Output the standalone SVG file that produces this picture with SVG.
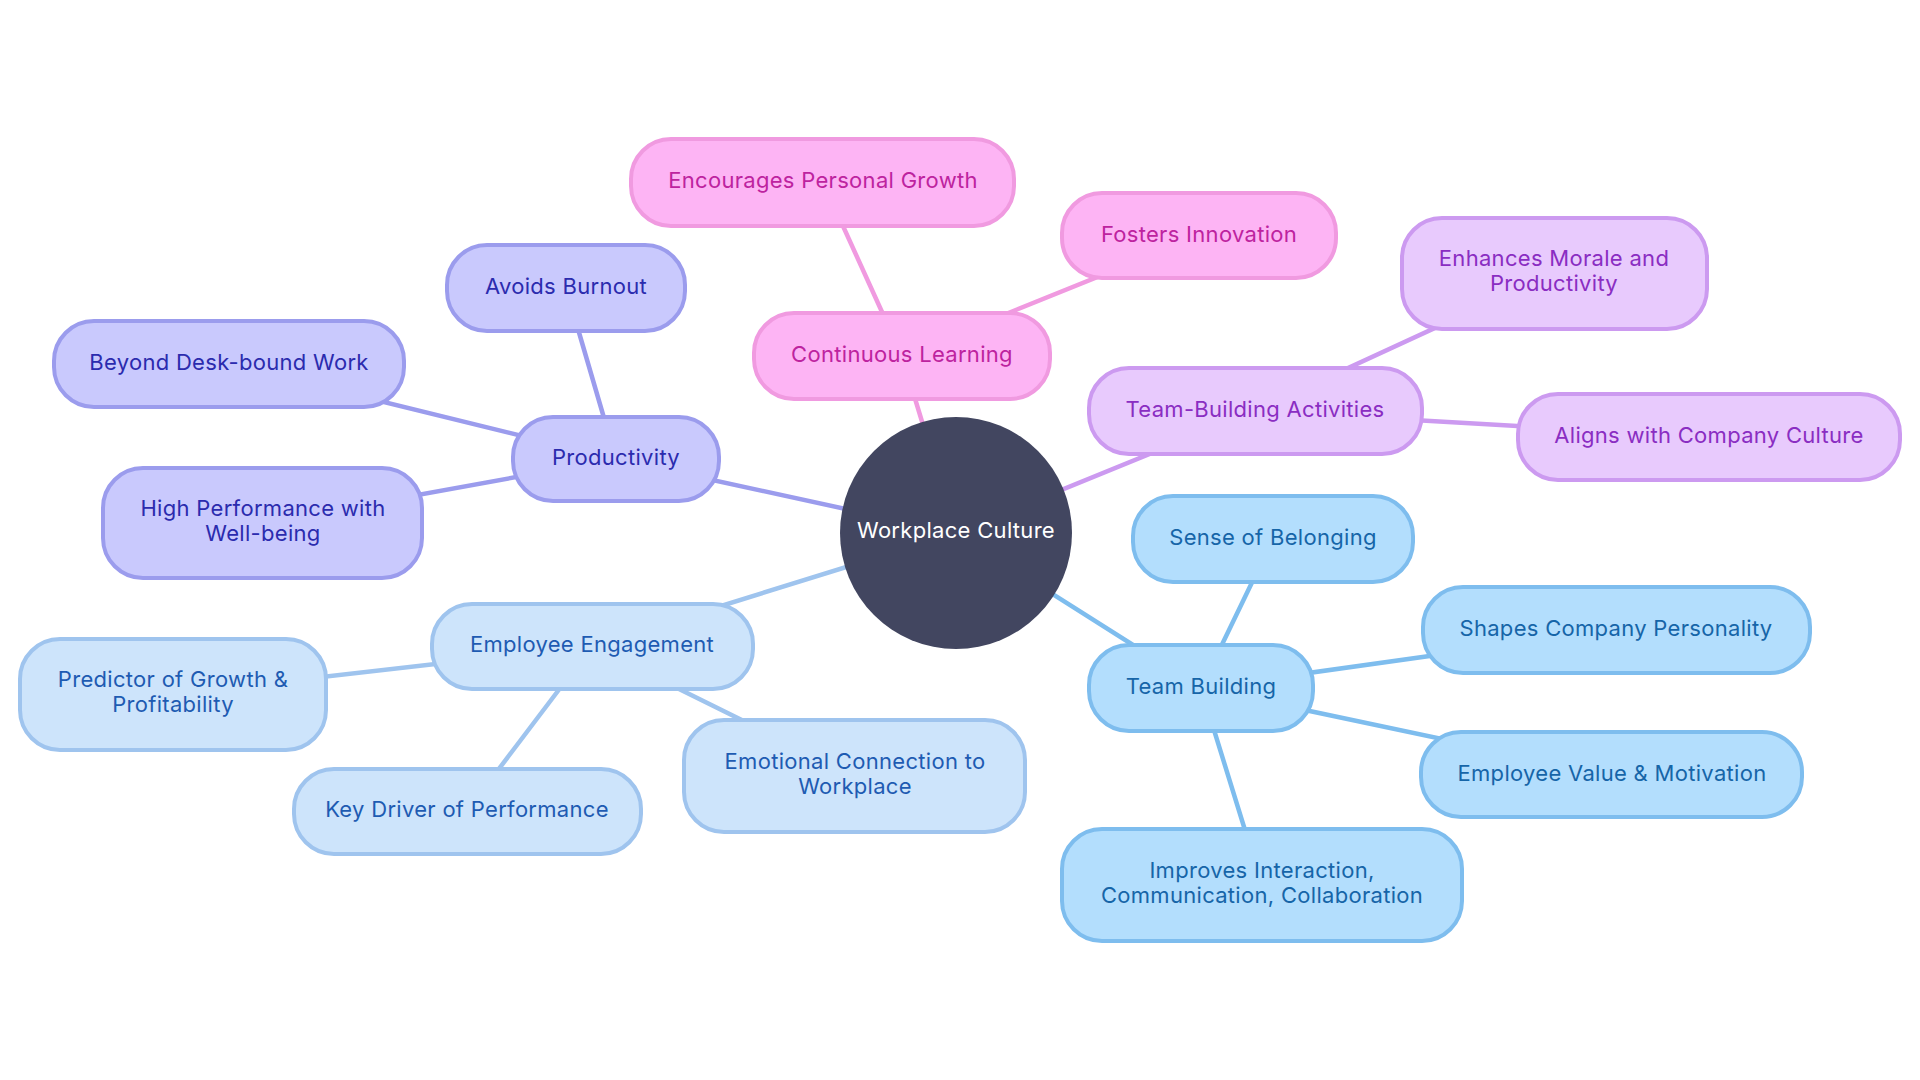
<svg xmlns="http://www.w3.org/2000/svg" width="1920" height="1080" viewBox="0 0 1920 1080">
<style>
text{font-family:Inter,"Noto Sans","Liberation Sans",sans-serif;font-size:22px;letter-spacing:0.3px;text-anchor:middle;dominant-baseline:central}
.e{stroke-width:4.5;fill:none;stroke-linecap:round}
.n rect{stroke-width:4}
.p rect{fill:#c9c9fd;stroke:#9b9ced}.p text{fill:#2b2bae}.pe{stroke:#9b9ced}
.k rect{fill:#fdb4f4;stroke:#f09ae0}.k text{fill:#bd239f}.ke{stroke:#f09ae0}
.v rect{fill:#e8cafd;stroke:#cc9af0}.v text{fill:#8a2dc2}.ve{stroke:#cc9af0}
.l rect{fill:#cde4fb;stroke:#9fc4ee}.l text{fill:#1e5bb2}.le{stroke:#9fc4ee}
.s rect{fill:#b3defd;stroke:#7ebdee}.s text{fill:#1665a8}.se{stroke:#7ebdee}
</style>
<rect width="1920" height="1080" fill="#ffffff"/>
<g id="connectors">
<line class="e pe" x1="956" y1="533" x2="616" y2="459"/>
<line class="e pe" x1="616" y1="459" x2="566" y2="288"/>
<line class="e pe" x1="616" y1="459" x2="229" y2="364"/>
<line class="e pe" x1="616" y1="459" x2="263" y2="523"/>
<line class="e ke" x1="956" y1="533" x2="902" y2="356"/>
<line class="e ke" x1="902" y1="356" x2="823" y2="182"/>
<line class="e ke" x1="902" y1="356" x2="1199" y2="236"/>
<line class="e ve" x1="956" y1="533" x2="1255" y2="411"/>
<line class="e ve" x1="1255" y1="411" x2="1554" y2="273"/>
<line class="e ve" x1="1255" y1="411" x2="1709" y2="437"/>
<line class="e le" x1="956" y1="533" x2="592" y2="646"/>
<line class="e le" x1="592" y1="646" x2="173" y2="694"/>
<line class="e le" x1="592" y1="646" x2="467" y2="811"/>
<line class="e le" x1="592" y1="646" x2="855" y2="776"/>
<line class="e se" x1="956" y1="533" x2="1201" y2="688"/>
<line class="e se" x1="1201" y1="688" x2="1273" y2="539"/>
<line class="e se" x1="1201" y1="688" x2="1616" y2="630"/>
<line class="e se" x1="1201" y1="688" x2="1612" y2="775"/>
<line class="e se" x1="1201" y1="688" x2="1262" y2="885"/>
</g>
<g id="root"><circle cx="956" cy="533" r="116" fill="#424660"/><text x="956" y="530" fill="#ffffff">Workplace Culture</text></g>
<g id="productivity" class="n p"><rect x="513" y="417" width="206" height="84" rx="40"/><text x="616" y="457">Productivity</text></g>
<g id="avoids-burnout" class="n p"><rect x="447" y="245" width="238" height="86" rx="40"/><text x="566" y="286">Avoids Burnout</text></g>
<g id="beyond-desk" class="n p"><rect x="54" y="321" width="350" height="86" rx="40"/><text x="229" y="362">Beyond Desk-bound Work</text></g>
<g id="high-performance" class="n p"><rect x="103" y="468" width="319" height="110" rx="40"/><text x="263" y="508">High Performance with</text><text x="263" y="533">Well-being</text></g>
<g id="continuous-learning" class="n k"><rect x="754" y="313" width="296" height="86" rx="40"/><text x="902" y="354">Continuous Learning</text></g>
<g id="personal-growth" class="n k"><rect x="631" y="139" width="383" height="87" rx="40"/><text x="823" y="180">Encourages Personal Growth</text></g>
<g id="fosters-innovation" class="n k"><rect x="1062" y="193" width="274" height="85" rx="40"/><text x="1199" y="234">Fosters Innovation</text></g>
<g id="team-building-activities" class="n v"><rect x="1089" y="368" width="333" height="86" rx="40"/><text x="1255" y="409">Team-Building Activities</text></g>
<g id="enhances-morale" class="n v"><rect x="1402" y="218" width="305" height="111" rx="40"/><text x="1554" y="258">Enhances Morale and</text><text x="1554" y="283">Productivity</text></g>
<g id="aligns-culture" class="n v"><rect x="1518" y="394" width="382" height="86" rx="40"/><text x="1709" y="435">Aligns with Company Culture</text></g>
<g id="employee-engagement" class="n l"><rect x="432" y="604" width="321" height="85" rx="40"/><text x="592" y="644">Employee Engagement</text></g>
<g id="predictor" class="n l"><rect x="20" y="639" width="306" height="111" rx="40"/><text x="173" y="679">Predictor of Growth &amp;</text><text x="173" y="704">Profitability</text></g>
<g id="key-driver" class="n l"><rect x="294" y="769" width="347" height="85" rx="40"/><text x="467" y="809">Key Driver of Performance</text></g>
<g id="emotional-connection" class="n l"><rect x="684" y="720" width="341" height="112" rx="40"/><text x="855" y="761">Emotional Connection to</text><text x="855" y="786">Workplace</text></g>
<g id="team-building" class="n s"><rect x="1089" y="645" width="224" height="86" rx="40"/><text x="1201" y="686">Team Building</text></g>
<g id="sense-belonging" class="n s"><rect x="1133" y="496" width="280" height="86" rx="40"/><text x="1273" y="537">Sense of Belonging</text></g>
<g id="shapes-personality" class="n s"><rect x="1423" y="587" width="387" height="86" rx="40"/><text x="1616" y="628">Shapes Company Personality</text></g>
<g id="employee-value" class="n s"><rect x="1421" y="732" width="381" height="85" rx="40"/><text x="1612" y="773">Employee Value &amp; Motivation</text></g>
<g id="improves-interaction" class="n s"><rect x="1062" y="829" width="400" height="112" rx="40"/><text x="1262" y="870">Improves Interaction,</text><text x="1262" y="895">Communication, Collaboration</text></g>
</svg>
